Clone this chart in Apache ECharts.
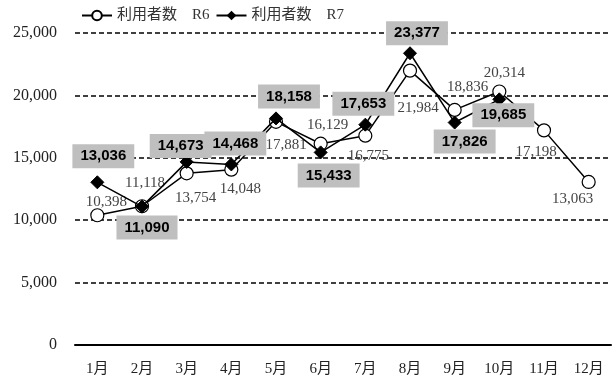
<!DOCTYPE html>
<html><head><meta charset="utf-8">
<script src="https://cdn.jsdelivr.net/npm/echarts@6/dist/echarts.min.js"></script>
<style>html,body{margin:0;padding:0;background:#fff}#c{width:612px;height:383px}</style>
</head><body><div id="c"></div>
<script>
var categories = ['1月','2月','3月','4月','5月','6月','7月','8月','9月','10月','11月','12月'];
var seriesNames = ['利用者数　R6','利用者数　R7'];
var valuesR6 = [10398, 11118, 13754, 14048, 17881, 16129, 16775, 21984, 18836, 20314, 17198, 13063];
var valuesR7 = [13036, 11090, 14673, 14468, 18158, 15433, 17653, 23377, 17826, 19685];
var yTicks = [0, 5000, 10000, 15000, 20000, 25000];

// label offsets (style only)
var offR6 = [[9,-13],[3,-23],[9,25],[9,19],[10,23],[7,-19],[3,20],[8,37],[13,-23],[5,-18],[-8,22],[-16,17]];
var offR7 = [[6,-26],[5,21],[-6,-16],[4,-21],[13,-22],[8,23],[-2,-21],[7,-20],[10,19],[4,16]];

function fmt(v){return v.toString().replace(/\B(?=(\d{3})+(?!\d))/g, ',');}
var serif = '"Liberation Serif","Noto Sans CJK JP",serif';

var dataR6 = valuesR6.map(function(v,i){
  return {value:v, label:{show:true, position:'inside', offset:offR6[i], formatter:fmt(v),
    color:'#444', fontFamily:serif, fontSize:15}};
});
var dataR7 = valuesR7.map(function(v,i){
  return {value:v, label:{show:true, position:'inside', offset:offR7[i], formatter:fmt(v),
    color:'#000', fontFamily:'"Liberation Sans",Arial,sans-serif', fontWeight:'bold', fontSize:15,
    backgroundColor:'#bfbfbf', padding:[5,8,4,8]}};
});

var chart = echarts.init(document.getElementById('c'), null, {renderer:'canvas'});
chart.setOption({
  animation:false,
  backgroundColor:'#fff',
  legend:{
    top:3, left:76, itemWidth:30, itemHeight:12, itemGap:6,
    textStyle:{fontFamily:serif, fontSize:15, color:'#333'},
    data:seriesNames
  },
  grid:{left:75, right:1, top:33, bottom:38},
  xAxis:{
    type:'category', data:categories, boundaryGap:true,
    axisLine:{show:true, lineStyle:{color:'#000', width:2}},
    axisTick:{show:false},
    axisLabel:{fontFamily:serif, fontSize:15, color:'#222', margin:17}
  },
  yAxis:{
    type:'value', min:yTicks[0], max:yTicks[yTicks.length-1], interval:5000,
    axisLine:{show:false}, axisTick:{show:false},
    axisLabel:{fontFamily:serif, fontSize:16, color:'#222', margin:18,
      formatter:function(v){return fmt(v);}},
    splitLine:{show:true, lineStyle:{color:'#000', width:1.5, type:[5,3]}}
  },
  series:[
    {name:seriesNames[0], type:'line', data:dataR6, symbol:'circle', symbolSize:13,
     lineStyle:{color:'#000', width:1.5},
     itemStyle:{color:'#fff', borderColor:'#000', borderWidth:1.2}, z:2},
    {name:seriesNames[1], type:'line', data:dataR7, symbol:'diamond', symbolSize:13,
     lineStyle:{color:'#000', width:1.5},
     itemStyle:{color:'#000', borderColor:'#000'}, z:3}
  ]
});
</script></body></html>
